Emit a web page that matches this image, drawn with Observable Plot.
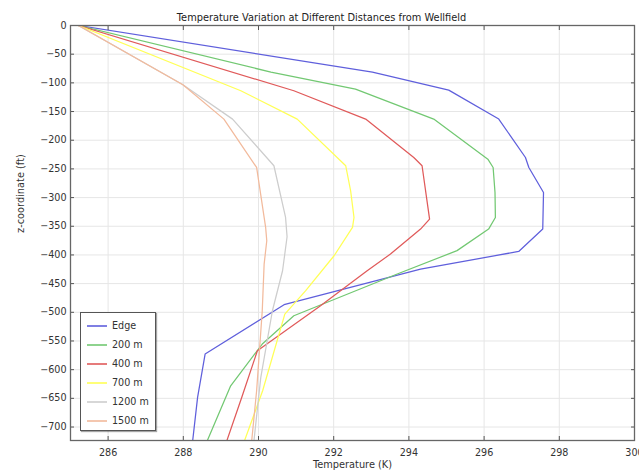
<!DOCTYPE html>
<html>
<head>
<meta charset="utf-8">
<script src="https://cdn.jsdelivr.net/npm/d3@7"></script>
<script src="https://cdn.jsdelivr.net/npm/@observablehq/plot@0.6"></script>
<style>
  html, body { margin: 0; padding: 0; background: #fff; }
  #wrap { position: relative; width: 639px; height: 470px; overflow: hidden; font-family: "DejaVu Sans", sans-serif; }
  #legend { position: absolute; left: 80px; top: 312px; width: 76px; height: 119px; background: #fff;
    border: 1px solid #555; box-shadow: 1px 1px 1px rgba(0,0,0,0.35); box-sizing: border-box; padding-top: 3px; }
  .row { display: flex; align-items: center; height: 19px; font-size: 9.6px; color: #333; }
  .row svg { margin-left: 6px; margin-right: 5px; }
</style>
</head>
<body>
<div id="wrap"><div id="legend"></div></div>
<script>
const title = "Temperature Variation at Different Distances from Wellfield";
const xLabel = "Temperature (K)";
const yLabel = "z-coordinate (ft)";
const xTicks = [286, 288, 290, 292, 294, 296, 298, 300];
const yTicks = [0, -50, -100, -150, -200, -250, -300, -350, -400, -450, -500, -550, -600, -650, -700];

const seriesNames = ["Edge", "200 m", "400 m", "700 m", "1200 m", "1500 m"];
const seriesColors = ["#5f5fdc", "#72c872", "#e05a5a", "#ffff55", "#cdcdcd", "#f2ba9c"];

const edgeT = [285.21, 293.03, 295.06, 296.39, 297.10, 297.19, 297.58, 297.56, 296.92, 294.31, 290.68, 288.58, 288.38, 288.25];
const edgeZ = [0, -81.2, -112.6, -163.1, -230.1, -247.5, -291.1, -354.9, -393.9, -424.6, -486.8, -572.8, -648.4, -723.5];

const m200T = [285.21, 290.33, 292.58, 294.66, 296.10, 296.24, 296.29, 296.30, 296.12, 295.28, 293.69, 290.94, 290.10, 289.26, 288.64];
const m200Z = [0, -81.2, -111.0, -163.2, -233.0, -247.5, -291.1, -334.7, -354.9, -392.5, -433.3, -506.0, -555.3, -628.1, -723.5];

const m400T = [285.21, 290.94, 292.85, 294.13, 294.35, 294.55, 294.31, 293.51, 292.89, 291.65, 289.97, 289.56, 289.16];
const m400Z = [0, -113.8, -163.2, -230.1, -244.5, -337.5, -354.9, -398.5, -427.6, -488.6, -567.1, -647.2, -723.5];

const m700T = [285.21, 289.53, 291.03, 292.32, 292.45, 292.54, 292.50, 292.01, 291.25, 290.70, 290.11, 289.63];
const m700Z = [0, -113.8, -163.2, -244.5, -288.1, -334.7, -352.1, -401.4, -462.5, -503.1, -636.8, -723.5];

const m1200T = [285.21, 287.99, 289.31, 290.41, 290.72, 290.76, 290.64, 290.37, 290.06, 289.88];
const m1200Z = [0, -103.4, -163.2, -244.5, -334.7, -368.3, -427.6, -497.3, -614.0, -723.5];

const m1500T = [285.21, 287.99, 289.08, 289.95, 290.19, 290.22, 290.15, 290.10, 289.95, 289.82];
const m1500Z = [0, -103.4, -163.2, -247.5, -352.1, -375.3, -415.9, -497.3, -636.8, -723.5];

const seriesT = [edgeT, m200T, m400T, m700T, m1200T, m1500T];
const seriesZ = [edgeZ, m200Z, m400Z, m700Z, m1200Z, m1500Z];

const rows = [];
seriesNames.forEach((name, i) => {
  seriesT[i].forEach((t, j) => rows.push({series: name, T: t, z: seriesZ[i][j]}));
});

const font = "DejaVu Sans, sans-serif";

const chart = Plot.plot({
  width: 639,
  height: 470,
  marginLeft: 70,
  marginRight: 5,
  marginTop: 25,
  marginBottom: 30,
  style: {fontFamily: font, fontSize: "9.6px", color: "#333", background: "#fff"},
  x: {domain: [285, 300], label: null},
  y: {domain: [-723.5, 0], label: null},
  color: {domain: seriesNames, range: seriesColors},
  marks: [
    Plot.gridX(xTicks, {stroke: "#e6e6e6", strokeOpacity: 1, strokeWidth: 1}),
    Plot.gridY(yTicks, {stroke: "#e6e6e6", strokeOpacity: 1, strokeWidth: 1}),
    Plot.line(rows, {x: "T", y: "z", z: "series", stroke: "series", strokeWidth: 1.25, clip: true}),
    Plot.axisX(xTicks, {anchor: "bottom", tickSize: 0, tickPadding: 9, label: null}),
    Plot.axisY(yTicks, {anchor: "left", tickSize: 0, tickPadding: 4, label: null}),
    Plot.axisX(xTicks, {anchor: "bottom", tickSize: -4, tickFormat: () => "", label: null, stroke: "#555"}),
    Plot.axisX(xTicks, {anchor: "top", tickSize: -4, tickFormat: () => "", label: null, stroke: "#555"}),
    Plot.axisY(yTicks, {anchor: "left", tickSize: -4, tickFormat: () => "", label: null, stroke: "#555"}),
    Plot.axisY(yTicks, {anchor: "right", tickSize: -4, tickFormat: () => "", label: null, stroke: "#555"}),
    Plot.frame({stroke: "#666", strokeWidth: 1.3}),
    Plot.text([title], {frameAnchor: "top", dy: -11, dx: -31, fontSize: 9.8, fill: "#222", text: d => d}),
    Plot.text([xLabel], {frameAnchor: "bottom", dy: 27, fontSize: 9.8, fill: "#333", text: d => d}),
    Plot.text([yLabel], {frameAnchor: "left", dx: -50, rotate: -90, fontSize: 9.8, fill: "#333", text: d => d})
  ]
});

document.getElementById("wrap").prepend(chart);

const legend = document.getElementById("legend");
seriesNames.forEach((name, i) => {
  const row = document.createElement("div");
  row.className = "row";
  row.innerHTML = `<svg width="20" height="4"><line x1="0" y1="2" x2="20" y2="2" stroke="${seriesColors[i]}" stroke-width="1.6"/></svg><span>${name}</span>`;
  legend.appendChild(row);
});
</script>
</body>
</html>
